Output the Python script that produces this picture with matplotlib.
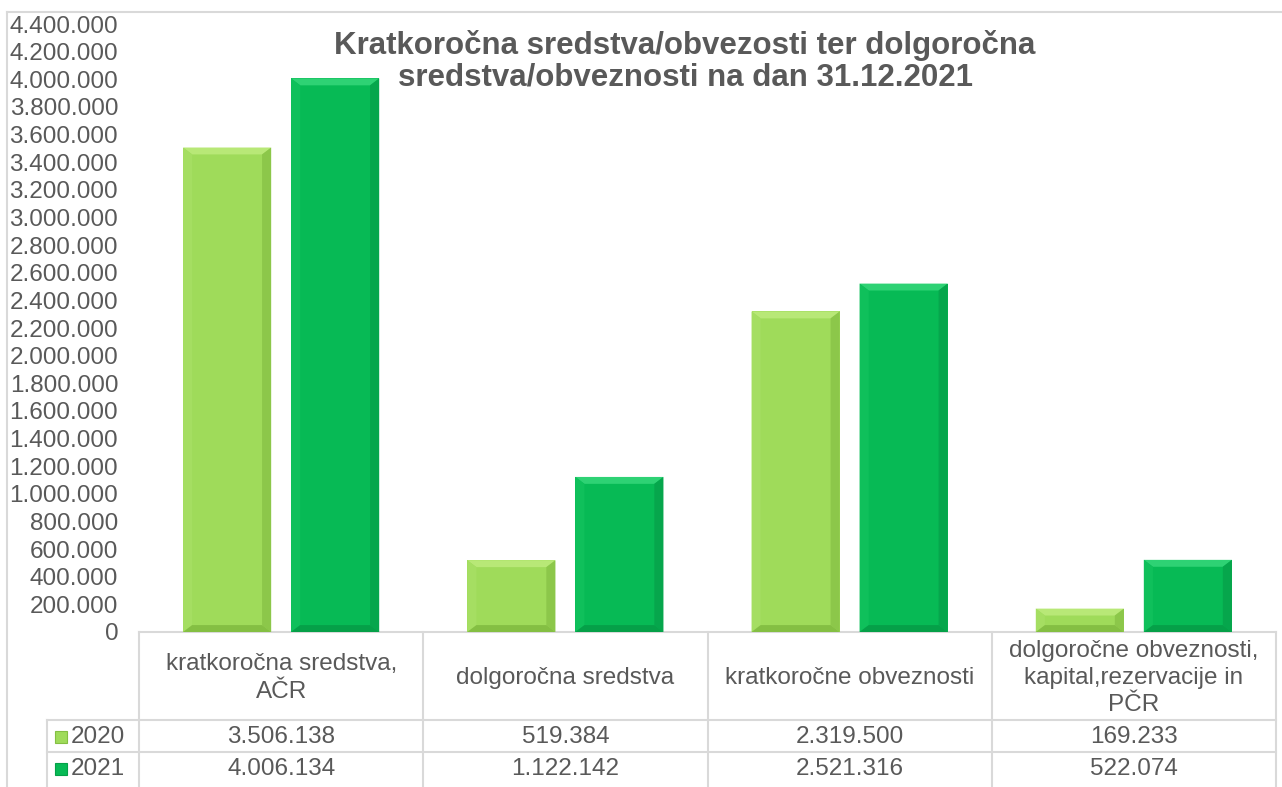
import matplotlib.pyplot as plt
from matplotlib.patches import Polygon, Rectangle
from matplotlib.ticker import FuncFormatter

plt.rcParams['font.family'] = ['Liberation Sans', 'DejaVu Sans']

# data
categories = ['kratkoročna sredstva,\nAČR', 'dolgoročna sredstva',
              'kratkoročne obveznosti',
              'dolgoročne obveznosti,\nkapital,rezervacije in\nPČR']
years = ['2020', '2021']
values_2020 = [3506138, 519384, 2319500, 169233]
values_2021 = [4006134, 1122142, 2521316, 522074]
yticks = list(range(0, 4400001, 200000))

title = 'Kratkoročna sredstva/obvezosti ter dolgoročna\nsredstva/obveznosti na dan 31.12.2021'

GRAY = '#595959'
LINE = '#D9D9D9'
# main, top, left, right, bottom
light = ['#9FDB5A', '#B8E877', '#A5DE62', '#8CC74A', '#84BF43']
dark = ['#07BA55', '#2ED274', '#0FC05B', '#06A64C', '#05A048']


def fmt(v, pos=None):
    return f'{v:,.0f}'.replace(',', '.')


def bevel(ax, rects, cols, bx=0.032, by=50000):
    for r in rects:
        x0, y0 = r.get_x(), r.get_y()
        x1, y1 = x0 + r.get_width(), y0 + r.get_height()
        b = min(by, r.get_height() / 3)
        bxx = bx * b / by
        faces = [
            ([(x0, y1), (x1, y1), (x1 - bxx, y1 - b), (x0 + bxx, y1 - b)], cols[1]),
            ([(x0, y0), (x0, y1), (x0 + bxx, y1 - b), (x0 + bxx, y0 + b)], cols[2]),
            ([(x1, y0), (x1, y1), (x1 - bxx, y1 - b), (x1 - bxx, y0 + b)], cols[3]),
            ([(x0, y0), (x1, y0), (x1 - bxx, y0 + b), (x0 + bxx, y0 + b)], cols[4]),
        ]
        for pts, c in faces:
            ax.add_patch(Polygon(pts, closed=True, facecolor=c, edgecolor='none', zorder=3))


fig = plt.figure(figsize=(12.82, 7.87), dpi=100)

# overlay in pixel coordinates for frame and data table
ov = fig.add_axes([0, 0, 1, 1], zorder=0)
ov.set_xlim(0, 1282)
ov.set_ylim(787, 0)
ov.axis('off')

ax = fig.add_axes([139 / 1282, (787 - 632) / 787, 1137 / 1282, 608 / 787], zorder=1)
ax.patch.set_visible(False)

x = list(range(len(categories)))
w = 0.31
b1 = ax.bar([i - 0.19 for i in x], values_2020, w, color=light[0], zorder=2)
b2 = ax.bar([i + 0.19 for i in x], values_2021, w, color=dark[0], zorder=2)
bevel(ax, b1, light)
bevel(ax, b2, dark)

ax.set_xlim(-0.5, len(categories) - 0.5)
ax.set_ylim(0, 4400000)
ax.set_yticks(yticks)
ax.yaxis.set_major_formatter(FuncFormatter(fmt))
ax.tick_params(axis='y', length=0, pad=15, labelsize=17.5, labelcolor=GRAY)
ax.set_xticks([])
for s in ax.spines.values():
    s.set_visible(False)

# outer frame
ov.plot([7, 1282], [12, 12], color=LINE, lw=1.5)
ov.plot([7, 7], [12, 787], color=LINE, lw=1.5)

# title
ov.text(685, 61, title, ha='center', va='center', fontsize=22.5, fontweight='bold',
        color=GRAY, linespacing=1.05)

# data table
col_w = 1137 / len(categories)
edges = [139 + k * col_w for k in range(len(categories) + 1)]
ov.plot([139, 1276], [632, 632], color=LINE, lw=1.5)
for yy in (720, 752):
    ov.plot([47, 1276], [yy, yy], color=LINE, lw=1.5)
for xx in edges:
    ov.plot([xx, xx], [632, 790], color=LINE, lw=1.5)
ov.plot([47, 47], [720, 790], color=LINE, lw=1.5)

for k, cat in enumerate(categories):
    cx = (edges[k] + edges[k + 1]) / 2
    ov.text(cx, 678, cat, ha='center', va='center', fontsize=17.5, color=GRAY,
            linespacing=1.32)
    ov.text(cx, 737, fmt(values_2020[k]), ha='center', va='center', fontsize=17.5, color=GRAY)
    ov.text(cx, 769, fmt(values_2021[k]), ha='center', va='center', fontsize=17.5, color=GRAY)

for yc, yr, cols in ((737, years[0], light), (769, years[1], dark)):
    ov.add_patch(Rectangle((55, yc - 6), 12, 12, facecolor=cols[0],
                           edgecolor=cols[4], lw=0.8))
    ov.text(71, yc, yr, ha='left', va='center', fontsize=17.5, color=GRAY)

fig.savefig('out.png', dpi=100)
